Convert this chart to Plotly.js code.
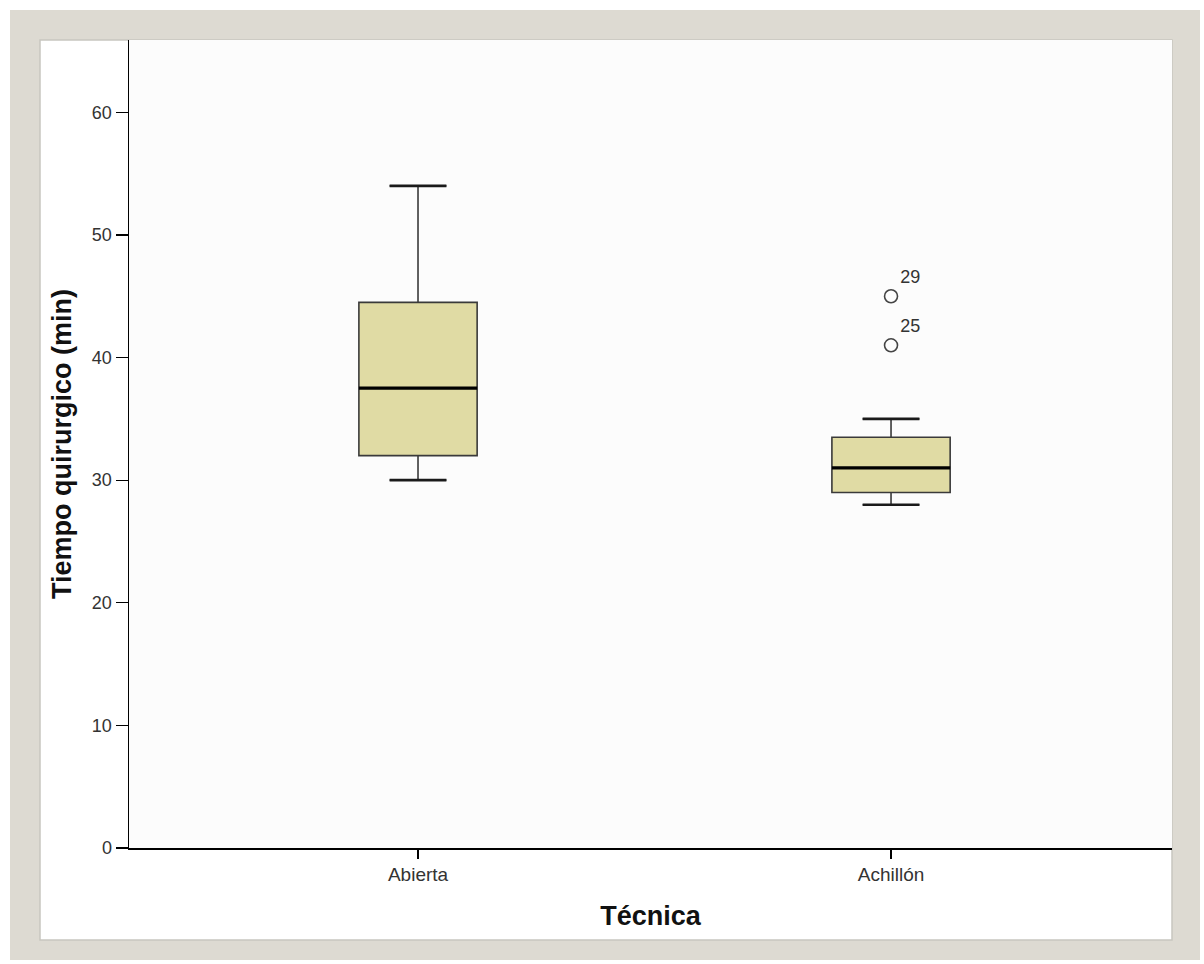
<!DOCTYPE html>
<html>
<head>
<meta charset="utf-8">
<script src="https://cdn.plot.ly/plotly-3.0.1.min.js"></script>
<style>html,body{margin:0;padding:0;background:#fff;}#chart{width:1204px;height:964px;}</style>
</head>
<body>
<div id="chart"></div>
<script>
// Data
const categories = ["Abierta", "Achillón"];
const lowerWhisker = [30, 28];
const q1Values = [32, 29];
const medianValues = [37.5, 31];
const q3Values = [44.5, 33.5];
const upperWhisker = [54, 35];
const outlierCategory = ["Achillón", "Achillón"];
const outlierValues = [45, 41];
const outlierLabels = ["29", "25"];
const yTicks = [0, 10, 20, 30, 40, 50, 60];

const pos = categories.map((c, i) => i);
const boxHalf = 0.125;
const capHalf = 0.06;

const traces = [];
traces.push({
  type: 'box',
  x: pos,
  q1: q1Values,
  median: medianValues,
  q3: q3Values,
  lowerfence: lowerWhisker,
  upperfence: upperWhisker,
  width: 2 * boxHalf,
  whiskerwidth: 2 * capHalf / (2 * boxHalf),
  fillcolor: '#e0dba4',
  line: {color: '#3a3a3a', width: 1.6},
  boxpoints: false,
  hoverinfo: 'skip',
  showlegend: false
});
pos.forEach((p, i) => {
  traces.push({type: 'scatter', mode: 'lines', x: [p - boxHalf, p + boxHalf], y: [medianValues[i], medianValues[i]],
    line: {color: '#000', width: 3.2}, hoverinfo: 'skip', showlegend: false});
  [lowerWhisker[i], upperWhisker[i]].forEach(v => {
    traces.push({type: 'scatter', mode: 'lines', x: [p - capHalf, p + capHalf], y: [v, v],
      line: {color: '#1a1a1a', width: 2.6}, hoverinfo: 'skip', showlegend: false});
  });
});
traces.push({
  type: 'scatter', mode: 'markers+text',
  x: outlierCategory.map(c => categories.indexOf(c)),
  y: outlierValues,
  text: outlierLabels,
  textposition: 'top right',
  textfont: {family: 'Liberation Sans, Arial, sans-serif', size: 18, color: '#333'},
  marker: {symbol: 'circle-open', size: 13, color: '#444', line: {width: 1.6, color: '#444'}},
  hoverinfo: 'skip', showlegend: false
});

const W = 1043, H = 808;
const px = v => (v - 129) / W;
const py = v => (848 - v) / H;

const layout = {
  width: 1204, height: 964,
  margin: {l: 129, r: 32, t: 40, b: 116},
  paper_bgcolor: '#ffffff',
  plot_bgcolor: 'rgba(0,0,0,0)',
  font: {family: 'Liberation Sans, Arial, sans-serif', color: '#333'},
  xaxis: {
    range: [-0.611, 1.594],
    tickvals: pos, ticktext: categories,
    showline: true, linecolor: '#000', linewidth: 1.5,
    ticks: 'outside', ticklen: 9, tickcolor: '#000', tickwidth: 1.2,
    showgrid: false, zeroline: false,
    tickfont: {size: 19, color: '#333'},
    title: {text: 'Técnica', font: {size: 27, color: '#111', weight: 'bold'}, standoff: 22}
  },
  yaxis: {
    range: [0, 65.9],
    tickvals: yTicks,
    showline: true, linecolor: '#000', linewidth: 1.5,
    ticks: 'outside', ticklen: 12, tickcolor: '#000', tickwidth: 1.2,
    showgrid: false, zeroline: false,
    tickfont: {size: 18, color: '#333'},
    title: {text: 'Tiempo quirurgico (min)', font: {size: 27, color: '#111', weight: 'bold'}, standoff: 12}
  },
  shapes: [
    {type: 'rect', xref: 'paper', yref: 'paper', layer: 'below',
      x0: px(10), x1: px(1200), y0: py(960), y1: py(10),
      fillcolor: '#dddad2', line: {width: 0}},
    {type: 'rect', xref: 'paper', yref: 'paper', layer: 'below',
      x0: px(40), x1: px(1172), y0: py(940), y1: py(40),
      fillcolor: '#ffffff', line: {color: '#c8c6c0', width: 1.5}},
    {type: 'rect', xref: 'paper', yref: 'paper', layer: 'below',
      x0: px(129), x1: px(1172), y0: py(848), y1: py(40),
      fillcolor: '#fcfcfc', line: {width: 0}}
  ],
  showlegend: false
};

Plotly.newPlot('chart', traces, layout, {displayModeBar: false, staticPlot: true});
</script>
</body>
</html>
